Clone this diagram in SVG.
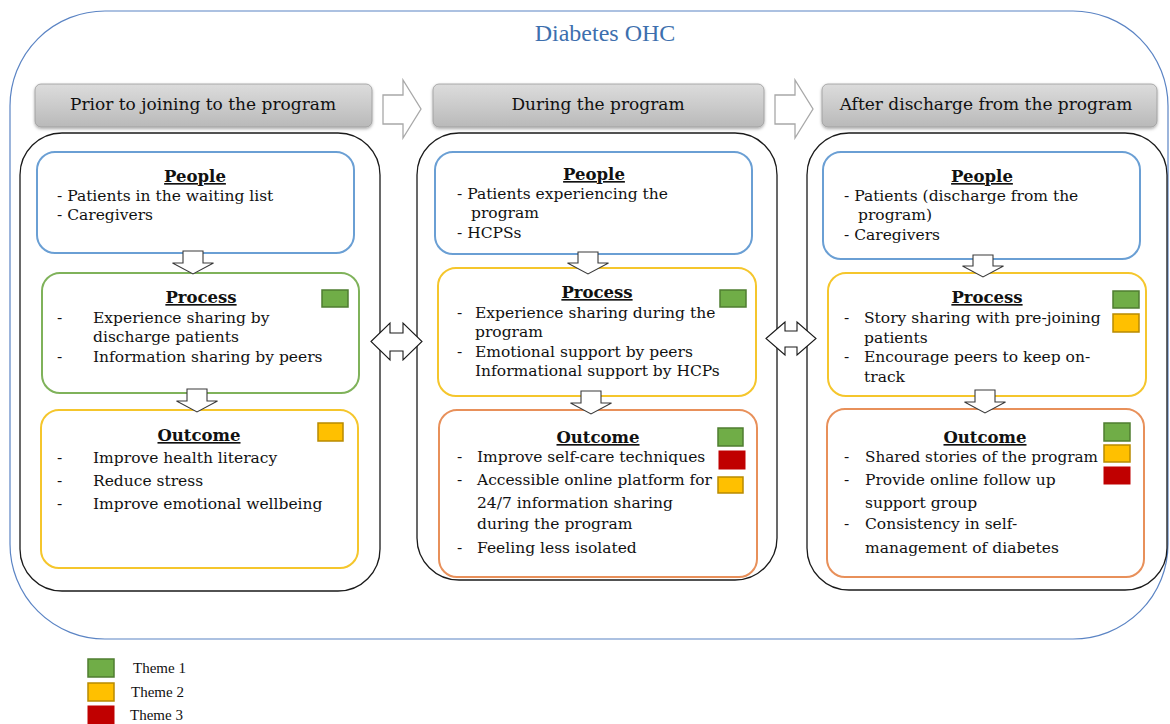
<svg xmlns="http://www.w3.org/2000/svg" width="1170" height="724" viewBox="0 0 1170 724">
<defs>
<linearGradient id="tabg" x1="0" y1="0" x2="0" y2="1">
<stop offset="0" stop-color="#dcdcdc"/>
<stop offset="0.5" stop-color="#cbcbcb"/>
<stop offset="1" stop-color="#b9b9b9"/>
</linearGradient>
<filter id="sh" x="-5%" y="-20%" width="110%" height="150%">
<feDropShadow dx="0" dy="1.5" stdDeviation="1.5" flood-color="#000" flood-opacity="0.35"/>
</filter>
</defs>
<style>
.outer{fill:none;stroke:#5b84c4;stroke-width:1.2}
.col{fill:#fff;stroke:#1a1a1a;stroke-width:1.3}
.tab{fill:url(#tabg);stroke:#9a9a9a;stroke-width:0.8;filter:url(#sh)}
.box{fill:#fff;stroke-width:2}
.blue{stroke:#6a9fd4}
.green{stroke:#7fb25a}
.yellow{stroke:#f5c62c}
.orange{stroke:#e8905a}
.t{font-family:"DejaVu Serif","Liberation Serif",serif;font-size:15.5px;fill:#111}
.h{font-family:"DejaVu Serif","Liberation Serif",serif;font-size:16.5px;font-weight:bold;fill:#111;text-decoration:underline;text-anchor:middle}
.tabt{font-family:"DejaVu Serif","Liberation Serif",serif;font-size:17px;fill:#111;text-anchor:middle}
.title{font-family:"Liberation Serif",serif;font-size:24px;fill:#3d6fae;text-anchor:middle}
.leg{font-family:"Liberation Serif",serif;font-size:15px;fill:#111}
.sg{fill:#70ad47;stroke:#4f7d30;stroke-width:1.5}
.sy{fill:#ffc000;stroke:#b88a00;stroke-width:1.5}
.sr{fill:#c00000;stroke:#c00000;stroke-width:1}
.harr{fill:#fff;stroke:#a8a8a8;stroke-width:1.3}
.darr{fill:#fff;stroke:#3a3a3a;stroke-width:1.1}
.barr{fill:#fff;stroke:#1a1a1a;stroke-width:1.1}
</style>
<rect width="1170" height="724" fill="#fff"/>
<g id="ohc">
<rect class="outer" x="10" y="11" width="1158" height="628" rx="95" ry="95"/>
<text class="title" x="605" y="41">Diabetes OHC</text>
</g>
<g id="tab1"><rect class="tab" x="35" y="84" width="337" height="43" rx="6"/><text class="tabt" x="203" y="110">Prior to joining to the program</text></g>
<g id="tab2"><rect class="tab" x="433" y="84" width="331" height="43" rx="6"/><text class="tabt" x="598" y="110">During the program</text></g>
<g id="tab3"><rect class="tab" x="822" y="84" width="335" height="43" rx="6"/><text class="tabt" x="986" y="110">After discharge from the program</text></g>
<g id="col1"><rect class="col" x="20" y="133" width="360" height="458" rx="42"/></g>
<g id="col2"><rect class="col" x="417" y="133" width="360" height="447" rx="42"/></g>
<g id="col3"><rect class="col" x="807" y="133" width="360" height="457" rx="42"/></g>
<g id="c1-people">
<rect class="box blue" x="37" y="152" width="317" height="101" rx="18"/>
<text class="h" x="195" y="182">People</text>
<text class="t" x="57" y="201">- Patients in the waiting list</text>
<text class="t" x="57" y="220">- Caregivers</text>
</g>
<g id="c1-process">
<rect class="box green" x="42" y="273" width="317" height="120" rx="18"/>
<text class="h" x="201" y="303">Process</text>
<rect class="sg" x="322" y="290" width="26" height="17"/>
<text class="t" x="57" y="323">-</text><text class="t" x="93" y="323">Experience sharing by</text>
<text class="t" x="93" y="342">discharge patients</text>
<text class="t" x="57" y="362">-</text><text class="t" x="93" y="362">Information sharing by peers</text>
</g>
<g id="c1-outcome">
<rect class="box yellow" x="41" y="410" width="317" height="158" rx="18"/>
<text class="h" x="199" y="441">Outcome</text>
<rect class="sy" x="318" y="423" width="25" height="18"/>
<text class="t" x="57" y="463">-</text><text class="t" x="93" y="463">Improve health literacy</text>
<text class="t" x="57" y="486">-</text><text class="t" x="93" y="486">Reduce stress</text>
<text class="t" x="57" y="509">-</text><text class="t" x="93" y="509">Improve emotional wellbeing</text>
</g>
<g id="c2-people">
<rect class="box blue" x="435" y="152" width="317" height="102" rx="18"/>
<text class="h" x="594" y="180">People</text>
<text class="t" x="457" y="199">- Patients experiencing the</text>
<text class="t" x="471" y="218">program</text>
<text class="t" x="457" y="238">- HCPSs</text>
</g>
<g id="c2-process">
<rect class="box yellow" x="438" y="268" width="318" height="128" rx="18"/>
<text class="h" x="597" y="298">Process</text>
<rect class="sg" x="720" y="290" width="26" height="17"/>
<text class="t" x="457" y="318">-</text><text class="t" x="475" y="318">Experience sharing during the</text>
<text class="t" x="475" y="337">program</text>
<text class="t" x="457" y="357">-</text><text class="t" x="475" y="357">Emotional support by peers</text>
<text class="t" x="475" y="376">Informational support by HCPs</text>
</g>
<g id="c2-outcome">
<rect class="box orange" x="439" y="410" width="318" height="167" rx="18"/>
<text class="h" x="598" y="443">Outcome</text>
<rect class="sg" x="718" y="428" width="25" height="18"/>
<rect class="sr" x="719" y="451" width="26" height="18"/>
<rect class="sy" x="718" y="477" width="25" height="16"/>
<text class="t" x="457" y="462">-</text><text class="t" x="477" y="462">Improve self-care techniques</text>
<text class="t" x="457" y="485">-</text><text class="t" x="477" y="485" textLength="235" lengthAdjust="spacingAndGlyphs">Accessible online platform for</text>
<text class="t" x="477" y="508">24/7 information sharing</text>
<text class="t" x="477" y="529">during the program</text>
<text class="t" x="457" y="553">-</text><text class="t" x="477" y="553">Feeling less isolated</text>
</g>
<g id="c3-people">
<rect class="box blue" x="823" y="152" width="317" height="107" rx="18"/>
<text class="h" x="982" y="182">People</text>
<text class="t" x="844" y="201">- Patients (discharge from the</text>
<text class="t" x="858" y="220">program)</text>
<text class="t" x="844" y="240">- Caregivers</text>
</g>
<g id="c3-process">
<rect class="box yellow" x="828" y="273" width="318" height="123" rx="18"/>
<text class="h" x="987" y="303">Process</text>
<rect class="sg" x="1113" y="291" width="26" height="17"/>
<rect class="sy" x="1113" y="314" width="26" height="18"/>
<text class="t" x="844" y="323">-</text><text class="t" x="864" y="323">Story sharing with pre-joining</text>
<text class="t" x="864" y="343">patients</text>
<text class="t" x="844" y="362">-</text><text class="t" x="864" y="362">Encourage peers to keep on-</text>
<text class="t" x="864" y="382">track</text>
</g>
<g id="c3-outcome">
<rect class="box orange" x="827" y="409" width="317" height="168" rx="18"/>
<text class="h" x="985" y="443">Outcome</text>
<rect class="sg" x="1104" y="423" width="26" height="18"/>
<rect class="sy" x="1104" y="445" width="26" height="17"/>
<rect class="sr" x="1104" y="467" width="26" height="17"/>
<text class="t" x="844" y="462">-</text><text class="t" x="865" y="462" textLength="233" lengthAdjust="spacingAndGlyphs">Shared stories of the program</text>
<text class="t" x="844" y="485">-</text><text class="t" x="865" y="485">Provide online follow up</text>
<text class="t" x="865" y="508">support group</text>
<text class="t" x="844" y="529">-</text><text class="t" x="865" y="529">Consistency in self-</text>
<text class="t" x="865" y="553">management of diabetes</text>
</g>
<g id="connectors">
<path class="harr" d="M383,95 H403 V80 L421,109 L403,138 V124 H383 Z"/>
<path class="harr" d="M775,95 H795 V80 L813,109 L795,138 V124 H775 Z"/>
<path class="barr" d="M371,341.5 L390,323 V333 H403 V323 L422,341.5 L403,360 V351 H390 V360 Z"/>
<path class="barr" d="M766,338.5 L785,322 V331 H797 V322 L816,338.5 L797,355 V347 H785 V355 Z"/>
<path class="darr" d="M183,251 H203 V263 H213.5 L193,274 L172.5,263 H183 Z"/>
<path class="darr" d="M187,389 H207 V401 H217.5 L197,412 L176.5,401 H187 Z"/>
<path class="darr" d="M578,252 H598 V263 H608.5 L588,274 L567.5,263 H578 Z"/>
<path class="darr" d="M581,391 H601 V403 H611.5 L591,414 L570.5,403 H581 Z"/>
<path class="darr" d="M973,255 H993 V266 H1003.5 L983,277 L962.5,266 H973 Z"/>
<path class="darr" d="M975,390 H995 V402 H1005.5 L985,413 L964.5,402 H975 Z"/>
</g>
<g id="legend">
<rect class="sg" x="88" y="659" width="26" height="18"/>
<text class="leg" x="133" y="673">Theme 1</text>
<rect class="sy" x="88" y="683" width="26" height="18"/>
<text class="leg" x="131" y="697">Theme 2</text>
<rect class="sr" x="88" y="706" width="26" height="18"/>
<text class="leg" x="130" y="720">Theme 3</text>
</g>
</svg>
